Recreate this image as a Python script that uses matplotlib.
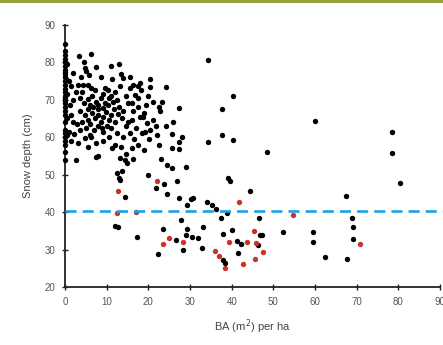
import matplotlib
matplotlib.use('Agg')
import matplotlib.pyplot as plt
from matplotlib.patches import Rectangle

plt.rcParams['font.family'] = ['Liberation Sans', 'DejaVu Sans']

# --- data (BA m2/ha, snow depth cm) ---
# points sitting on the y axis
axis_x = [0, 0, 0, 0, 0, 0, 0, 0, 0, 0, 0, 0, 0, 0, 0, 0, 0, 0, 0, 0, 0, 0, 0, 0, 0, 0, 0, 0, 0,
          0.4, 0.4, 0.4, 0.5, 0.3]
axis_y = [85, 83, 82, 81, 80, 79, 78, 77.5, 77, 76, 75, 74, 73, 72, 71, 70.5, 70, 69, 68, 67,
          66, 64, 62, 61, 60, 59, 58, 56, 54, 79.5, 71.5, 65, 60.5, 75.5]

# black points
black_x = [1.5, 1.9, 2.0, 1.5, 2.2, 1.0, 2.6, 1.2, 2.5, 1.0, 2.8, 1.5,
           3.3, 6.3, 4.6, 4.7, 4.9, 7.5, 10.9, 11.3, 3.1, 4.3, 5.5, 6.3, 7.1, 9.5, 10.3,
           3.5, 4.5, 5.5, 6.5, 7.5, 8.5, 9.5, 10.5, 11.5, 3.5, 4.8, 5.5, 6.5, 7.2, 8.0,
           8.5, 9.0, 9.8, 10.5, 11.0, 11.8, 4.0, 5.0, 6.0, 7.0, 8.0, 9.0, 10.0, 11.0, 12.0,
           4.8, 5.4, 7.4, 8.0, 3.0, 6.0, 9.0, 10.5, 11.2, 12.0, 12.5, 8.0, 6.0, 4.0, 12.0,
           12.5, 13.0, 12.8,
           2.0, 3.5, 5.5, 6.8, 7.8, 9.2, 10.2, 8.8, 6.2, 7.5, 3.8, 5.8, 8.5, 9.2, 11.0,
           14.5, 16.0, 17.5, 19.3,
           13.5, 13.9, 13.1, 16.3, 15.6, 18.0, 17.6, 18.2, 16.8, 14.5, 15.0, 16.0, 16.4,
           14.0, 13.6, 15.0, 18.0, 18.6, 19.6, 17.0, 15.5, 14.0, 16.5, 18.5, 20.2, 17.5,
           16.0, 13.5, 19.0, 14.5, 20.0, 21.0, 23.2, 22.5, 22.8, 19.5, 17.5, 21.8, 24.2,
           25.6, 20.5, 19.0, 21.0, 22.0, 22.5, 13.0, 15.5, 20.5, 20.5,
           24.2, 27.3, 27.3, 27.3, 25.6, 26.0, 28.0,
           34.4, 40.4, 37.6, 34.4, 37.6, 40.4, 48.5, 60.0, 78.4, 78.4, 80.3, 67.4,
           13.2, 14.4, 14.8, 16.4, 23.0, 24.4, 25.6, 29.0, 12.4, 13.6, 13.2, 13.0, 19.8,
           21.8, 23.7, 26.9, 14.4, 24.5, 27.3, 29.2, 12.0, 12.6, 17.2, 23.4, 27.8, 26.6,
           28.2, 22.2, 30.8, 30.2, 34.0, 35.3, 36.2, 38.8, 37.5, 46.5, 33.0, 40.1, 38.0,
           29.2, 29.0, 30.4, 32.0, 32.8, 41.2, 42.2, 46.8, 46.4, 41.6, 38.0, 38.4, 39.2,
           39.6, 44.5, 52.4, 59.5, 59.5, 62.4, 67.7, 68.9, 69.1, 69.1, 47.2]
black_y = [73.6, 77.1, 70.0, 66.0, 60.9, 61.5, 54.0, 68.5, 72.0, 75.0, 63.5, 59.0,
           81.8, 82.2, 80.2, 78.5, 77.8, 78.8, 78.9, 75.5, 74.0, 74.0, 74.0, 73.1, 72.7, 73.1,
           72.7, 70.5, 69.0, 70.2, 71.0, 69.5, 70.5, 69.0, 70.5, 69.5, 67.0, 66.0, 67.5, 66.5,
           65.0, 67.5, 64.0, 65.5, 66.8, 64.5, 66.0, 67.5, 64.0, 62.5, 63.5, 62.0, 63.0, 61.5,
           63.0, 62.5, 64.0, 59.8, 57.5, 54.8, 55.0, 58.5, 60.5, 59.0, 60.0, 57.1, 58.0, 61.0,
           68.5, 68.5, 72.0, 72.0, 70.0, 68.0, 66.3,
           64.0, 62.0, 64.5, 68.0, 66.0, 67.8, 68.5, 62.5, 60.0, 58.5, 76.0, 76.5, 76.0,
           71.5, 71.0, 63.0, 64.5, 70.5, 61.5,
           76.9, 75.8, 73.6, 74.0, 73.1, 74.5, 73.6, 72.7, 71.3, 71.0, 69.0, 69.1, 66.9,
           67.0, 65.0, 64.0, 65.5, 65.4, 63.8, 62.5, 61.0, 60.0, 59.5, 61.0, 59.6, 58.0,
           57.0, 57.5, 56.5, 55.5, 71.0, 69.5, 69.5, 68.0, 66.9, 68.5, 68.0, 62.9, 62.9,
           60.9, 62.0, 66.5, 64.5, 60.5, 58.0, 79.5, 76.0, 75.5, 73.5,
           73.3, 67.8, 58.7, 56.8, 57.2, 64.0, 60.0,
           80.5, 71.0, 67.6, 58.7, 60.5, 59.3, 56.0, 64.4, 61.3, 55.8, 47.8, 44.2,
           54.4, 54.0, 53.1, 54.2, 54.2, 52.6, 51.7, 52.0, 50.4, 51.0, 48.6, 49.2, 49.9,
           46.4, 47.5, 48.3, 44.1, 44.8, 43.7, 41.9, 36.4, 36.0, 33.4, 35.5, 37.8, 32.6,
           29.9, 28.9, 43.9, 43.4, 42.8, 41.9, 40.8, 39.7, 38.5, 38.5, 35.9, 35.2, 34.2,
           35.5, 33.9, 33.4, 33.2, 30.3, 32.3, 31.4, 33.9, 31.2, 29.0, 27.2, 26.5, 49.1,
           48.2, 45.7, 34.8, 34.8, 32.0, 28.1, 27.6, 38.4, 35.9, 32.9, 34.0]

# red points
red_x = [12.6, 12.5, 17.0, 22.1, 25.0, 23.4, 28.2, 41.8, 54.8, 70.7, 45.3, 45.8, 47.6,
         45.6, 39.3, 43.6, 36.0, 37.0, 38.4, 42.8]
red_y = [45.7, 39.7, 40.0, 48.2, 33.0, 31.4, 32.0, 42.8, 39.1, 31.5, 34.9, 31.8, 29.3,
         27.6, 32.0, 32.0, 29.6, 28.3, 25.2, 26.1]

threshold = 40.3

fig = plt.figure(figsize=(4.43, 3.45), dpi=100)
ax = fig.add_axes([0.147, 0.168, 0.846, 0.76])

# olive bar across the top
fig.patches.append(Rectangle((0, 0.990), 1, 0.010, transform=fig.transFigure,
                             facecolor='#9aa23a', edgecolor='none'))

ax.scatter(axis_x, axis_y, s=15, c='black', linewidths=0, zorder=3, clip_on=False)
ax.scatter(black_x, black_y, s=15, c='black', linewidths=0, zorder=3)
ax.scatter(red_x, red_y, s=15, c='#c8342c', linewidths=0, zorder=4)

ax.plot([0, 90.7], [threshold, threshold], color='#1ba3e2', lw=1.9,
        dashes=(4.2, 2.3), zorder=5, clip_on=False)

ax.set_xlim(0, 90)
ax.set_ylim(20, 90)
ax.set_xticks(range(0, 91, 10))
ax.set_yticks(range(20, 91, 10))

for s in ['top', 'right']:
    ax.spines[s].set_visible(False)
for s in ['left', 'bottom']:
    ax.spines[s].set_linewidth(1.3)
    ax.spines[s].set_color('#222222')

ax.tick_params(direction='inout', length=4, width=1, colors='#222222',
               labelsize=7, labelcolor='#555555', pad=5)

ax.set_xlabel('BA (m$^2$) per ha', fontsize=8, color='#444444', labelpad=8)
ax.set_ylabel('Snow depth (cm)', fontsize=8, color='#444444', labelpad=8)

fig.savefig('out.png', dpi=100)
